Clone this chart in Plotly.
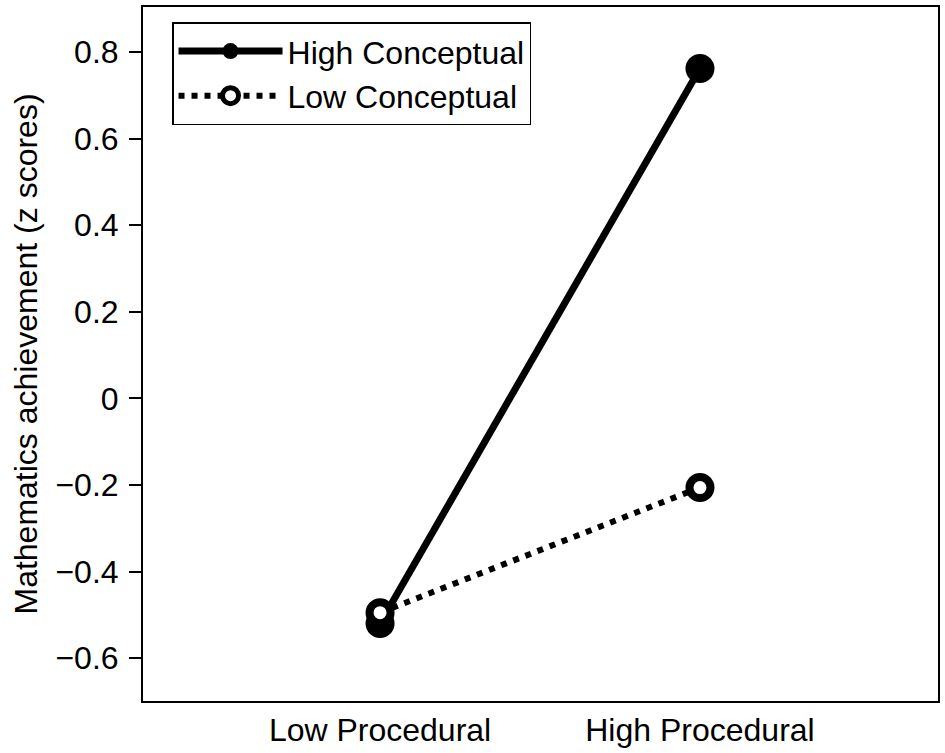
import plotly.graph_objects as go

categories = ["Low Procedural", "High Procedural"]
high_conceptual = [-0.52, 0.762]
low_conceptual = [-0.495, -0.206]
series_names = ["High Conceptual", "Low Conceptual"]
y_ticks = [-0.6, -0.4, -0.2, 0, 0.2, 0.4, 0.6, 0.8]
y_title = "Mathematics achievement (z scores)"

FONT = "Liberation Sans, Arial, sans-serif"

fig = go.Figure()
fig.add_trace(go.Scatter(
    x=categories, y=high_conceptual, name=series_names[0], mode="lines+markers",
    line=dict(color="black", width=7),
    marker=dict(symbol="circle", size=29, color="black"),
))
fig.add_trace(go.Scatter(
    x=categories, y=low_conceptual, name=series_names[1], mode="lines+markers",
    line=dict(color="black", width=6, dash="6px,7px"),
    marker=dict(symbol="circle", size=21, color="white", line=dict(color="black", width=8)),
))

fig.update_layout(
    width=945, height=753,
    margin=dict(l=143, r=7, t=5, b=49),
    paper_bgcolor="white", plot_bgcolor="white",
    font=dict(family=FONT, size=32, color="black"),
    showlegend=True,
    legend=dict(
        x=0.0365, y=0.978, xanchor="left", yanchor="top",
        bordercolor="black", borderwidth=1.5, bgcolor="white",
        font=dict(family=FONT, size=32, color="black"),
        itemwidth=104, tracegroupgap=0,
    ),
)
fig.update_xaxes(
    type="category", range=[-0.741, 1.744],
    showline=True, linecolor="black", linewidth=2, mirror=True,
    showgrid=False, zeroline=False, ticks="",
    tickfont=dict(family=FONT, size=32, color="black"),
)
fig.update_yaxes(
    range=[-0.699, 0.904], tickvals=y_ticks,
    showline=True, linecolor="black", linewidth=2, mirror=True,
    showgrid=False, zeroline=False,
    ticks="outside", ticklen=12, tickwidth=1.5, tickcolor="black",
    ticklabelstandoff=4,
    tickfont=dict(family=FONT, size=32, color="black"),
    title=dict(text=y_title, font=dict(family=FONT, size=32, color="black"), standoff=8),
)

fig.write_html("out.html", config={"displayModeBar": False},
               post_script="document.body.style.margin='0';")
